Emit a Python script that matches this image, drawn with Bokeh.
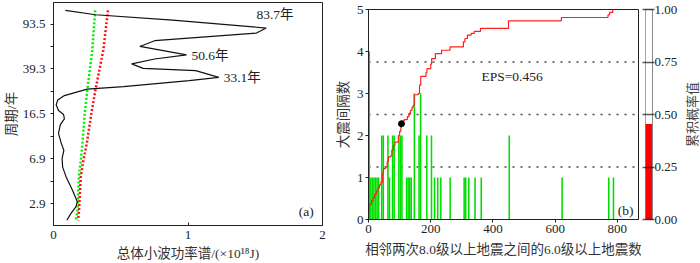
from bokeh.plotting import figure
from bokeh.layouts import row, column
from bokeh.models import Range1d, FixedTicker, PrintfTickFormatter, Label, Span
from bokeh.embed import file_html
from bokeh.resources import INLINE
import math

SERIF = "Liberation Serif"
MIXED = "Liberation Serif, Noto Sans CJK SC"
TXT = "#222222"

# ---------------- panel (a): global wavelet power spectrum ----------------
period_ticks = [2.9, 6.9, 16.5, 39.3, 93.5]
power_ticks = [0, 1, 2]
gws_power = [0.088, 0.313, 0.886, 1.582, 1.509, 0.752, 0.642, 0.989, 0.752, 0.581,
             0.667, 1.057, 1.229, 1.009, 0.520, 0.250, 0.081, 0.032, 0.020, 0.037,
             0.075, 0.081, 0.051, 0.037, 0.056, 0.077, 0.064, 0.068, 0.095, 0.141,
             0.178, 0.166, 0.130, 0.099]
gws_period = [122, 112, 101, 86.6, 78.6, 67.8, 60.7, 51.5, 47.6, 43.3,
              39.7, 38.0, 33.4, 31.4, 27.9, 26.6, 23.5, 21.6, 19.7, 17.6,
              16.3, 15.0, 13.4, 11.3, 9.5, 8.14, 6.98, 5.90, 4.84, 3.77,
              3.01, 2.73, 2.41, 2.11]
sig_period = [122, 56, 26.7, 16.5, 9.26, 6.7, 4.87, 2.56, 2.11]
sig_green = [0.310, 0.288, 0.252, 0.232, 0.215, 0.203, 0.188, 0.178, 0.166]
sig_red = [0.405, 0.370, 0.313, 0.281, 0.247, 0.222, 0.203, 0.190, 0.183]
peak_texts = ["83.7年", "50.6年", "33.1年"]

# ---------------- panel (b): histogram + cumulative probability ----------------
count_ticks = [0, 1, 2, 3, 4, 5]
n_ticks = [0, 200, 400, 600, 800]
bin_width = 5
bin_start = [0, 5, 10, 15, 20, 25, 30, 40, 45, 60, 65, 75, 80, 95, 100, 105, 120, 125, 130, 135,
             145, 160, 165, 185, 200, 210, 220, 230, 260, 305, 310, 320, 340, 360, 450, 620, 770, 785]
bin_count = [4, 1, 1, 1, 1, 1, 1, 2, 2, 2, 1, 2, 2, 2, 2, 2, 1, 1, 1, 1,
             3, 2, 3, 2, 2, 1, 1, 1, 1, 1, 1, 1, 1, 1, 2, 1, 1, 1]
cdf_x = [0, 0, 2, 5, 10, 15, 20, 25, 30, 35, 40, 45, 48, 55, 60, 64, 72, 75, 80, 85,
         96, 100, 104, 106, 110, 115, 125, 130, 135, 140, 144, 147, 160, 164, 168, 185, 188, 200, 203, 215,
         235, 262, 305, 310, 318, 330, 340, 360, 450, 620, 770, 775, 785]
cdf_p = [0, 0.04, 0.066, 0.074, 0.09, 0.105, 0.12, 0.135, 0.15, 0.165, 0.178, 0.22, 0.242, 0.25, 0.275, 0.298, 0.306, 0.33, 0.352, 0.368,
         0.40, 0.42, 0.44, 0.456, 0.47, 0.476, 0.49, 0.505, 0.52, 0.535, 0.544, 0.594, 0.60, 0.64, 0.682, 0.70, 0.718, 0.74, 0.766, 0.79,
         0.806, 0.822, 0.846, 0.862, 0.878, 0.886, 0.896, 0.91, 0.946, 0.962, 0.974, 0.986, 1.0]
eps_n = 106
eps_value = 0.456
prob_levels = [0.25, 0.5, 0.75]
prob_ticks = [0, 0.25, 0.5, 0.75, 1.0]


def style_axis(ax, tick_in=0, tick_out=3, standoff=3, label_standoff=3):
    ax.axis_line_color = "#222222"
    ax.major_tick_line_color = "#222222"
    ax.minor_tick_line_color = "#222222"
    ax.major_tick_in = tick_in
    ax.major_tick_out = tick_out
    ax.minor_tick_in = tick_in
    ax.minor_tick_out = tick_out
    ax.major_label_text_font = SERIF
    ax.major_label_text_font_size = "13px"
    ax.major_label_text_color = TXT
    ax.major_label_standoff = standoff
    ax.axis_label_text_font = MIXED
    ax.axis_label_text_font_size = "13.5px"
    ax.axis_label_text_font_style = "normal"
    ax.axis_label_text_color = "#333333"
    ax.axis_label_standoff = label_standoff


def label_strip(width, height, side, border_left, border_right, border_top, border_bottom, text):
    """A frameless strip whose only content is an axis title (no ticks)."""
    s = figure(width=width, height=height, x_range=Range1d(0, 1), y_range=Range1d(0, 1),
               output_backend="svg", toolbar_location=None,
               x_axis_location=side if side in ("below", "above") else None,
               y_axis_location=side if side in ("left", "right") else None,
               min_border_left=border_left, min_border_right=border_right,
               min_border_top=border_top, min_border_bottom=border_bottom)
    s.grid.visible = False
    s.outline_line_color = None
    ax = s.xaxis[0] if side in ("below", "above") else s.yaxis[0]
    ax.ticker = FixedTicker(ticks=[], minor_ticks=[])
    style_axis(ax, tick_in=0, tick_out=0, standoff=0, label_standoff=0)
    ax.axis_line_color = None
    ax.axis_label = text
    return s


# ---- figure (a)
p1 = figure(width=332, height=245, x_range=Range1d(0, 2), y_range=Range1d(1.908, 141.9),
            y_axis_type="log", output_backend="svg", toolbar_location=None,
            min_border_left=49, min_border_right=10, min_border_top=2, min_border_bottom=20)
p1.grid.visible = False
p1.outline_line_color = "#222222"
minor_periods = [math.sqrt(a * b) for a, b in zip(period_ticks[:-1], period_ticks[1:])]
p1.yaxis.ticker = FixedTicker(ticks=period_ticks, minor_ticks=minor_periods)
p1.yaxis.formatter = PrintfTickFormatter(format="%.1f")
p1.xaxis.ticker = FixedTicker(ticks=power_ticks, minor_ticks=[])
style_axis(p1.yaxis[0], tick_in=0, tick_out=3, standoff=5, label_standoff=1)
style_axis(p1.xaxis[0], tick_in=3, tick_out=0, standoff=5, label_standoff=0)
p1.yaxis.axis_label = "周期/年"

p1.line(sig_green, sig_period, line_color="#00ee00", line_width=2.5, line_dash="2 2")
p1.line(sig_red, sig_period, line_color="#ff1010", line_width=2.5, line_dash="2 2")
p1.line(gws_power, gws_period, line_color="#111111", line_width=1.2)

for txt, (lx, ly) in zip(peak_texts, [(1.509, 111.8), (1.026, 50.8), (1.265, 33.0)]):
    p1.add_layout(Label(x=lx, y=ly, text=txt, text_font=MIXED, text_font_size="13.5px",
                        text_color=TXT, text_baseline="middle", text_align="left"))
p1.add_layout(Label(x=1.824, y=2.48, text="(a)", text_font=SERIF, text_font_size="13.5px",
                    text_color=TXT, text_baseline="middle", text_align="left"))

s1 = label_strip(332, 18, "below", 49, 10, 0, 15, "总体小波功率谱/(×10¹⁸J)")

# ---- figure (b)
p2 = figure(width=309, height=263, x_range=Range1d(0, 868), y_range=Range1d(0, 5),
            output_backend="svg", toolbar_location=None,
            min_border_left=35, min_border_right=3, min_border_top=9, min_border_bottom=44)
p2.extra_y_ranges = {"prob": Range1d(0, 1)}
p2.grid.visible = False
p2.outline_line_color = "#222222"
p2.xaxis.ticker = FixedTicker(ticks=n_ticks, minor_ticks=[])
p2.yaxis.ticker = FixedTicker(ticks=count_ticks, minor_ticks=[])
style_axis(p2.yaxis[0], tick_in=0, tick_out=3, standoff=2, label_standoff=3)
style_axis(p2.xaxis[0], tick_in=0, tick_out=3, standoff=2, label_standoff=6)
p2.yaxis.axis_label = "大震间隔数"
p2.xaxis.axis_label = "相邻两次8.0级以上地震之间的6.0级以上地震数"

for lv in prob_levels:
    p2.add_layout(Span(location=lv, dimension="width", y_range_name="prob", line_color="#444444",
                       line_width=1.5, line_dash="2 6", level="underlay"))

p2.quad(left=bin_start, right=[b + bin_width for b in bin_start], bottom=0, top=bin_count,
        fill_color="#00dd00", line_color=None)
p2.step(cdf_x, cdf_p, mode="after", y_range_name="prob", line_color="#ff2020", line_width=1.2)
p2.scatter([eps_n], [eps_value], y_range_name="prob", size=6, fill_color="black", line_color="black")

p2.add_layout(Label(x=363, y=3.41, text="EPS=%.3f" % eps_value, text_font=SERIF, text_font_size="13.5px",
                    text_color=TXT, text_baseline="middle", text_align="left"))
p2.add_layout(Label(x=801, y=0.215, text="(b)", text_font=SERIF, text_font_size="13.5px",
                    text_color=TXT, text_baseline="middle", text_align="left"))

# ---- colour bar
p3 = figure(width=39, height=263, x_range=Range1d(0, 1), y_range=Range1d(0, 1),
            output_backend="svg", toolbar_location=None, x_axis_location=None, y_axis_location="right",
            min_border_left=4, min_border_right=25, min_border_top=9, min_border_bottom=44)
p3.grid.visible = False
p3.outline_line_color = "#888888"
p3.quad(left=0, right=1, bottom=0, top=eps_value, fill_color="#ff0000", line_color=None)
p3.quad(left=0, right=1, bottom=eps_value, top=1, fill_color="white", line_color=None)
p3.yaxis.ticker = FixedTicker(ticks=prob_ticks, minor_ticks=[])
p3.yaxis.formatter = PrintfTickFormatter(format="%.2f")
style_axis(p3.yaxis[0], tick_in=10, tick_out=2, standoff=0, label_standoff=0)
p3.yaxis.axis_line_color = "#888888"
p3.yaxis.major_tick_line_color = "black"
p3.yaxis.major_tick_line_alpha = 0.65
p3.yaxis.major_tick_line_width = 1.5

# ---- colour-bar title (reads bottom-to-top)
p4 = label_strip(20, 263, "left", 19, 0, 9, 44, "累积概率值")
p4.yaxis.axis_label_text_font = "Noto Sans CJK SC"
p4.yaxis.axis_label_text_font_size = "13px"
p4.yaxis.axis_label_text_color = "#444444"

layout = row(column(p1, s1), p2, p3, p4)
open("out.html", "w").write(file_html(layout, INLINE))
